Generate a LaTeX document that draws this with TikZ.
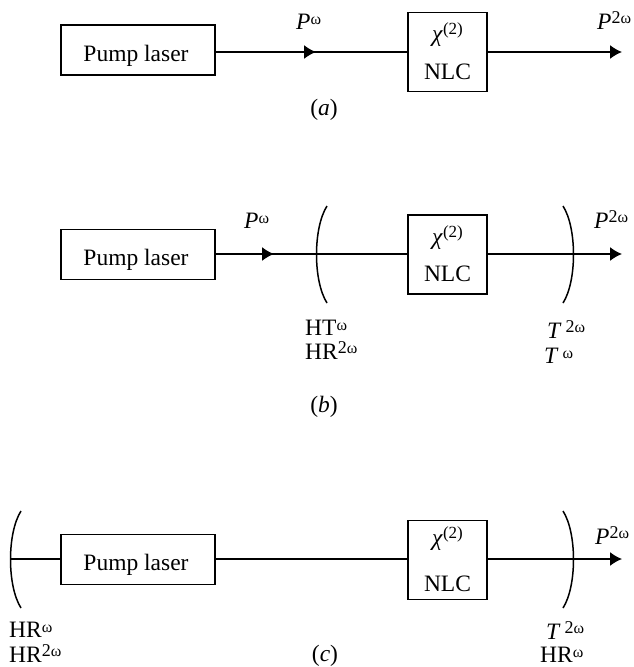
\documentclass[tikz,border=0pt]{standalone}
\usepackage{fontspec}
\setmainfont{Liberation Serif}
\usetikzlibrary{arrows.meta}
\tikzset{
 x=1pt,y=-1pt,
 box/.style={draw,line width=1.6pt,inner sep=0pt},
 pumpbox/.style={box,minimum width=154pt,minimum height=50pt},
 nlcbox/.style={box,minimum width=79pt,minimum height=79pt},
 ray/.style={line width=1.5pt},
 tip/.style={ray,-{Latex[length=12pt,width=14pt,inset=3pt]}},
 mirror/.style={line width=1.5pt},
 lab/.style={inner sep=0pt,anchor=base west,font=\fontsize{23.5}{26}\selectfont},
 mid/.style={lab,anchor=base},
}
\newcommand{\Pw}[1]{\textit{#1}}
\newcommand{\om}{\raisebox{5pt}{\fontsize{16}{18}\selectfont ω}}
\newcommand{\twoom}{\raisebox{5.5pt}{\fontsize{18}{20}\selectfont 2\fontsize{16}{18}\selectfont ω}}
\newcommand{\chitwo}{\textit{χ}\raisebox{7pt}{\fontsize{17}{20}\selectfont (2)}}
\begin{document}
\begin{tikzpicture}
\useasboundingbox (0,0) rectangle (633,667);
\fill[white] (0,0) rectangle (633,667);
% (a)
\node[pumpbox] (pa) at (138,50) {};
\node[nlcbox] (na) at (447.5,52) {};
\node[mid] (pta) at (136,61) {Pump laser};
\node[mid] (ca) at (447.5,41) {\chitwo};
\node[mid] (la) at (447.5,79) {NLC};
\coordinate (ma) at (316,52); \coordinate (ea) at (622,52);
\draw[ray] (pa.east|-ma) -- (na.west|-ma);
\draw[tip] (pa.east|-ma) -- (ma);
\draw[tip] (na.east|-ma) -- (ea);
\node[lab] (ta) at (296,29) {\Pw{P}\om};
\node[lab] (ua) at (597,29) {\Pw{P}\twoom};
\node[mid] (ka) at (324,115) {(\Pw{a})};
% (b)
\node[pumpbox] (pb) at (138,254.5) {};
\node[nlcbox] (nb) at (447.5,254.5) {};
\node[mid] (ptb) at (136,265) {Pump laser};
\node[mid] (cb) at (447.5,244) {\chitwo};
\node[mid] (lb) at (447.5,281) {NLC};
\coordinate (mb) at (274,254); \coordinate (eb) at (622,254);
\draw[ray] (pb.east|-mb) -- (nb.west|-mb);
\draw[tip] (pb.east|-mb) -- (mb);
\draw[tip] (nb.east|-mb) -- (eb);
\draw[mirror] (327,206) .. controls (313,228) and (313,281) .. (327,303);
\draw[mirror] (563,206) .. controls (577,228) and (577,281) .. (563,303);
\node[lab] (tb) at (244,228) {\Pw{P}\om};
\node[lab] (ub) at (594,228) {\Pw{P}\twoom};
\node[lab] (hb) at (305,335) {HT\om};
\node[lab] (ib) at (305,359) {HR\twoom};
\node[lab] (jb) at (547,338) {\Pw{T}\,\twoom};
\node[lab] (kb2) at (544,363) {\Pw{T}\,\om};
\node[mid] (kb) at (324,412) {(\Pw{b})};
% (c)
\node[pumpbox] (pc) at (138,559.5) {};
\node[nlcbox] (nc) at (447.5,560) {};
\node[mid] (ptc) at (136,570) {Pump laser};
\node[mid] (cc) at (447.5,545) {\chitwo};
\node[mid] (lc) at (447.5,591) {NLC};
\coordinate (sc) at (10,559); \coordinate (ec) at (622,559);
\draw[ray] (sc) -- (pc.west|-sc);
\draw[ray] (pc.east|-sc) -- (nc.west|-sc);
\draw[tip] (nc.east|-sc) -- (ec);
\draw[mirror] (21,511) .. controls (7,533) and (7,586) .. (21,608);
\draw[mirror] (563,511) .. controls (577,533) and (577,586) .. (563,608);
\node[lab] (uc) at (595,544) {\Pw{P}\twoom};
\node[lab] (hc) at (9,637) {HR\om};
\node[lab] (ic) at (9,662) {HR\twoom};
\node[lab] (jc) at (546,639) {\Pw{T}\,\twoom};
\node[lab] (kc2) at (540,662) {HR\om};
\node[mid] (kc) at (325,661) {(\Pw{c})};
\end{tikzpicture}
\end{document}
